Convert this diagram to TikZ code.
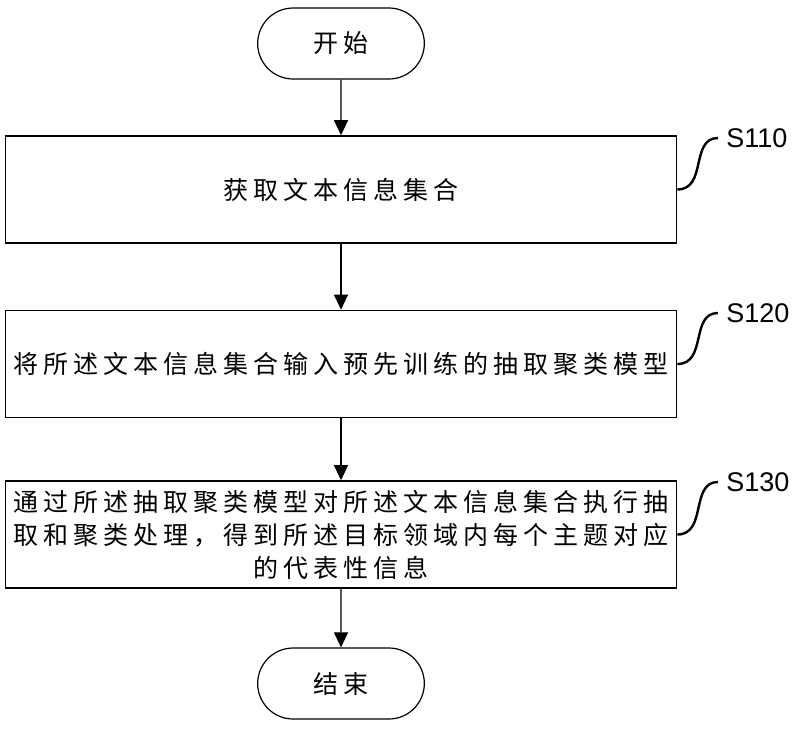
\documentclass[tikz,border=0pt]{standalone}
\usepackage{fontspec}
\setmainfont{Liberation Sans}
\newfontfamily\cjk[LetterSpace=20]{Noto Sans CJK SC}
\usetikzlibrary{positioning,shapes.misc,arrows.meta}

\tikzset{
  stepbox/.style={draw, line width=0.8pt, minimum width=335.5pt, minimum height=53.5pt,
    inner sep=0pt, align=center, font=\cjk\fontsize{12.5}{16.5}\selectfont},
  term/.style={draw, rounded rectangle, line width=0.6pt, minimum width=90pt,
    minimum height=35.5pt, font=\cjk\fontsize{12.5}{15}\selectfont},
  flow/.style={-{Triangle[length=7.5pt,width=7pt]}, line width=0.6pt},
  tag/.style={anchor=west, inner xsep=4pt, inner ysep=0pt, font=\fontsize{13.5}{15}\selectfont},
  lead/.style={line width=1.2pt}
}

\begin{document}
\begin{tikzpicture}[x=0.5pt, y=-0.5pt]
    \useasboundingbox (0,0) rectangle (794,729);

    \node[term] (start) at (341,43.5) {开始};
    \node[stepbox] (s1) at (341,189.5) {获取文本信息集合};
    \node[stepbox] (s2) at (341,364) {将所述文本信息集合输入预先训练的抽取聚类模型};
    \node[stepbox] (s3) at (341,534.5) {通过所述抽取聚类模型对所述文本信息集合执行抽\\
      取和聚类处理，得到所述目标领域内每个主题对应\\的代表性信息};
    \node[term] (stop) at (341,683.5) {结束};

    % step labels
    \node[tag] (t1) at (718,138) {S110};
    \node[tag] (t2) at (718,313) {S120};
    \node[tag] (t3) at (718,482) {S130};

    \draw[flow] (start) -- (s1);
    \draw[flow] (s1) -- (s2);
    \draw[flow] (s2) -- (s3);
    \draw[flow] (s3) -- (stop);

    \draw[lead] (s1.east) .. controls +(30,0) and +(-28,0) .. (t1.west);
    \draw[lead] (s2.east) .. controls +(30,0) and +(-28,0) .. (t2.west);
    \draw[lead] (s3.east) .. controls +(30,0) and +(-28,0) .. (t3.west);
\end{tikzpicture}
\end{document}
